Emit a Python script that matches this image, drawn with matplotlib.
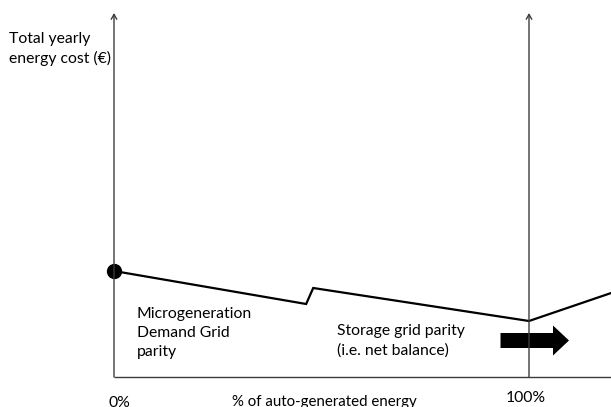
import matplotlib
matplotlib.use("Agg")
import matplotlib.pyplot as plt
from matplotlib.patches import FancyArrow

# Data: x = % of auto-generated energy, y = total yearly energy cost (arbitrary units)
cost_x = [0, 46.3, 48.0, 100, 119.8]
cost_y = [106, 73, 89, 56, 84]
start_point = (0, 106)
tick_labels = ["0%", "100%"]
tick_positions = [0, 100]

FONT = ["Lato", "DejaVu Sans"]
plt.rcParams['font.family'] = FONT

fig = plt.figure(figsize=(6.11, 4.07), dpi=100)
ax = fig.add_axes([0, 0, 1, 1])
# pixel mapping: 0% at px 114, 100% at px 529 ; y=0 at px 377 (1 unit = 1 px)
sx = (529 - 114) / 100.0
ax.set_xlim(-114 / sx, (611 - 114) / sx)
ax.set_ylim(-(407 - 377), 377)
ax.axis("off")

axis_col = "#3c3c3c"
top = 364
# x axis
ax.plot([0, (611 - 114) / sx], [0, 0], color=axis_col, lw=1.0, solid_capstyle="butt")
# y axes with open arrowheads
for xv in tick_positions:
    ax.annotate("", xy=(xv, top), xytext=(xv, 0),
                arrowprops=dict(arrowstyle="->,head_length=0.35,head_width=0.2",
                                color=axis_col, lw=1.0, shrinkA=0, shrinkB=0))

# cost line
ax.plot(cost_x, cost_y, color="black", lw=1.6, solid_joinstyle="miter", clip_on=False)
ax.plot([start_point[0]], [start_point[1]], "o", color="black", ms=10, clip_on=False)

# block arrow
ax.add_patch(FancyArrow((500.5 - 114) / sx, 377 - 340.5, (569 - 500.5) / sx, 0,
                        width=15, head_width=30, head_length=(569 - 553) / sx,
                        length_includes_head=True, color="black", lw=0))

fs = 11.3
ls = 1.45
ax.text(-105 / sx, 377 - 32, "Total yearly\nenergy cost (€)", fontsize=fs, va="top",
        ha="left", linespacing=ls)
ax.text(23 / sx, 377 - 307, "Microgeneration\nDemand Grid\nparity", fontsize=fs,
        va="top", ha="left", linespacing=ls)
ax.text((337 - 114) / sx, 377 - 324, "Storage grid parity\n(i.e. net balance)",
        fontsize=fs, va="top", ha="left", linespacing=ls)
ax.text(5 / sx, 377 - 396, tick_labels[0], fontsize=fs, va="top", ha="center")
ax.text((526 - 114) / sx, 377 - 391, tick_labels[1], fontsize=fs, va="top", ha="center")
ax.text((232 - 114) / sx, 377 - 395, "% of auto-generated energy", fontsize=10.8,
        va="top", ha="left")

fig.savefig("out.png", dpi=100)
